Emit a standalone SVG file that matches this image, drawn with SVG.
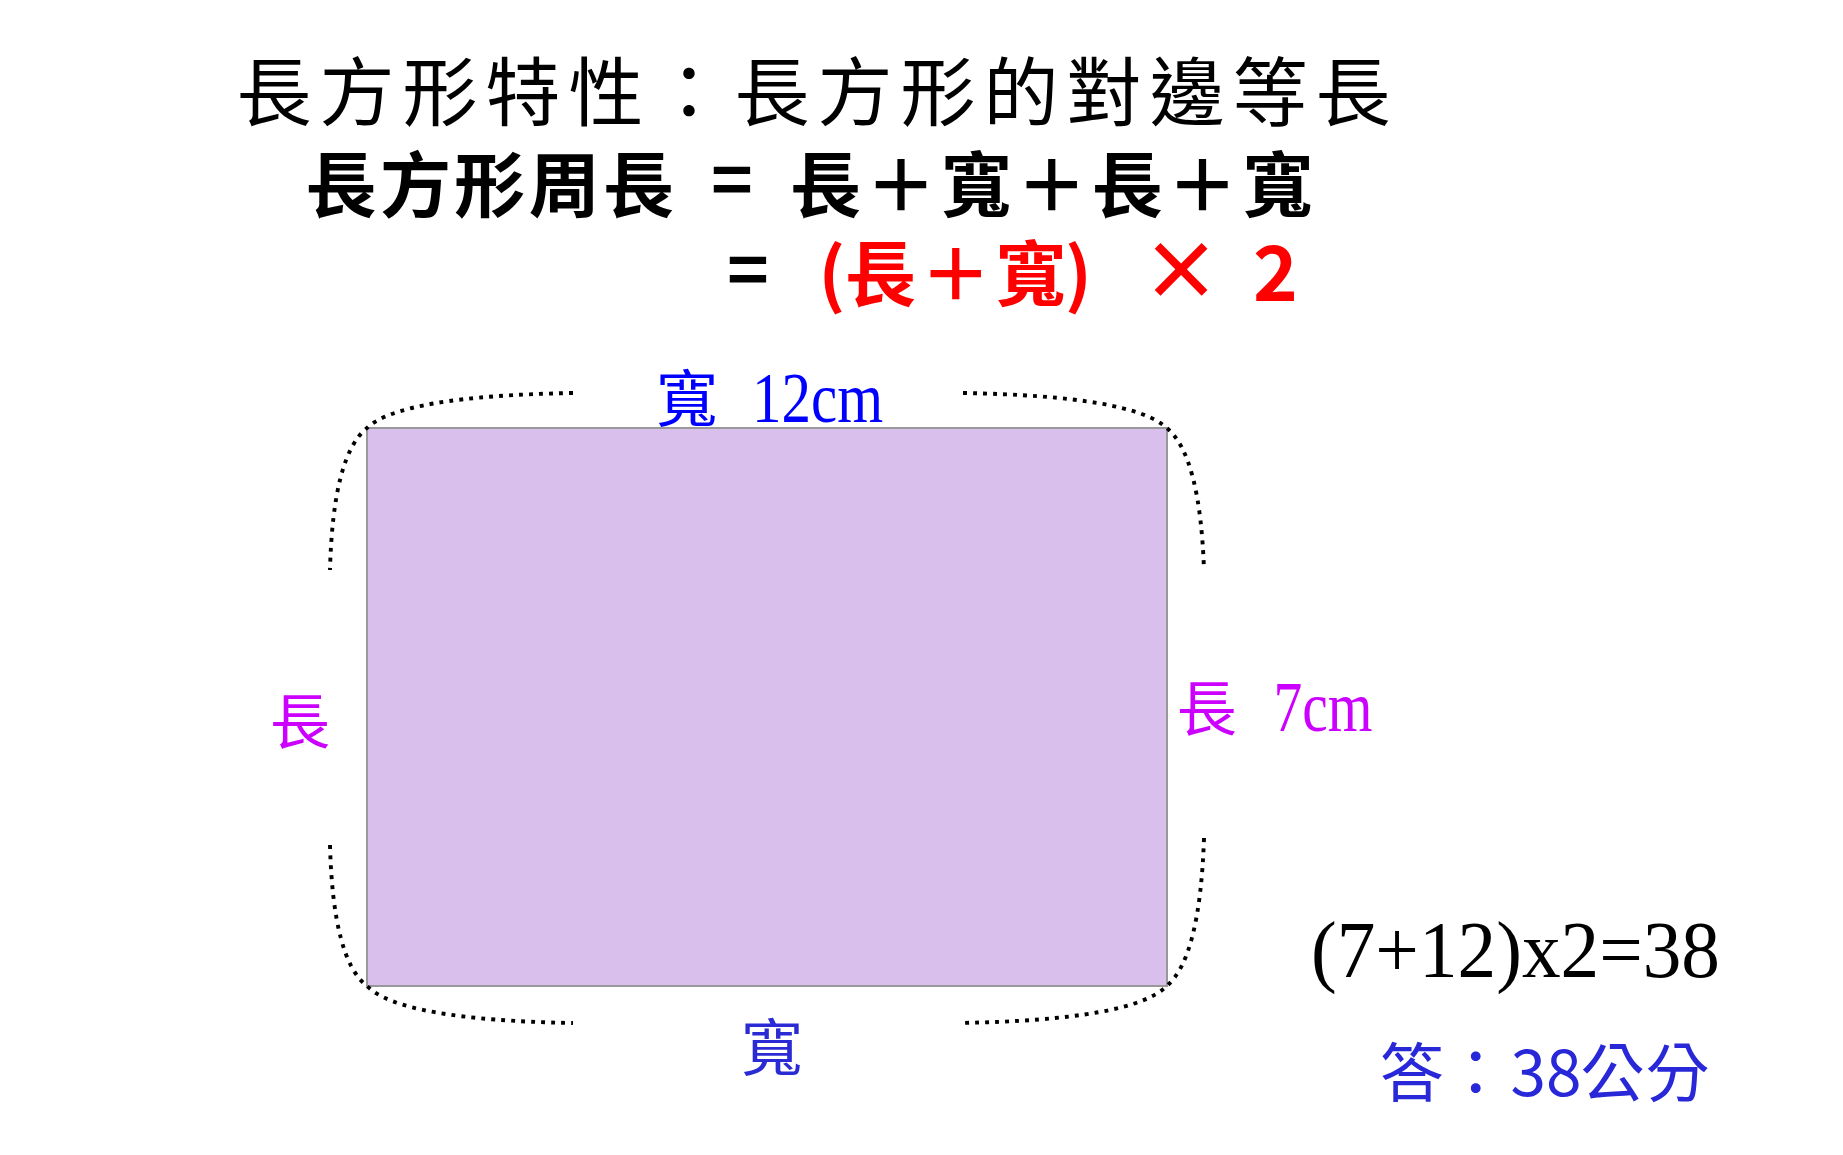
<svg xmlns="http://www.w3.org/2000/svg" width="1843" height="1155" viewBox="0 0 1843 1155">
<style>
.cjk{font-family:"Noto Sans CJK TC","Noto Sans CJK SC",sans-serif;}
.bold{font-weight:700;}
.ser{font-family:"Liberation Serif","DejaVu Serif",serif;}
.dot{fill:none;stroke:#000;stroke-width:3.9;stroke-dasharray:3.9 6.1;}
</style>
<rect x="0" y="0" width="1843" height="1155" fill="#fff"/>

<g id="title">
<text class="cjk" font-size="75" letter-spacing="8" fill="#000" x="236.5" y="120">長方形特性：長方形的對邊等長</text>
</g>

<g id="formula1">
<text class="cjk bold" font-size="71" letter-spacing="3.4" fill="#000" x="305.5" y="211">長方形周長</text>
<text class="cjk bold" font-size="71" text-anchor="middle" fill="#000" x="732" y="206">=</text>
<text class="cjk bold" font-size="71" letter-spacing="4.4" fill="#000" x="790.1" y="211">長＋寬＋長＋寬</text>
</g>

<g id="formula2">
<text class="cjk bold" font-size="71" text-anchor="middle" fill="#000" x="748" y="296">=</text>
<text class="cjk bold" font-size="71" text-anchor="middle" fill="#ff0000" x="832" y="300">(</text>
<text class="cjk bold" font-size="71" letter-spacing="4.25" fill="#ff0000" x="845" y="300">長＋寬</text>
<text class="cjk bold" font-size="71" text-anchor="middle" fill="#ff0000" x="1078.5" y="300">)</text>
<text class="cjk bold" font-size="80" text-anchor="middle" fill="#ff0000" x="1181" y="299">×</text>
<text class="cjk bold" font-size="76" text-anchor="middle" fill="#ff0000" x="1275.5" y="301">2</text>
</g>

<g id="rectangle">
<rect x="367" y="428" width="800" height="558" fill="#d9bfec" stroke="#999" stroke-width="2"/>
</g>

<g id="connectors">
<path class="dot" d="M573,393 Q400,396 367,428 Q333,455 330,570"/>
<path class="dot" d="M963,393 Q1133,396 1166.7,428 Q1200,455 1204,570"/>
<path class="dot" d="M330,845 Q333,960 367,986 Q400,1020 573,1023"/>
<path class="dot" d="M1204,838 Q1200,958 1166.7,986 Q1133,1020 960,1023"/>
</g>

<g id="label-top">
<text class="cjk" font-size="62" text-anchor="middle" fill="#0000ff" x="687" y="422">寬</text>
<text class="ser" font-size="72" fill="#0000ff" x="752" y="421.7" textLength="131" lengthAdjust="spacingAndGlyphs">12cm</text>
</g>

<g id="label-left">
<text class="cjk" font-size="60" text-anchor="middle" fill="#cc00ff" x="300" y="744">長</text>
</g>

<g id="label-right">
<text class="cjk" font-size="60" text-anchor="middle" fill="#cc00ff" x="1206.7" y="731">長</text>
<text class="ser" font-size="72" fill="#cc00ff" x="1273.5" y="730.7" textLength="99" lengthAdjust="spacingAndGlyphs">7cm</text>
</g>

<g id="label-bottom">
<text class="cjk" font-size="62" text-anchor="middle" fill="#2b2bd6" x="772" y="1071">寬</text>
</g>

<g id="calculation">
<text class="ser" font-size="81" fill="#000" x="1311" y="976.7" textLength="409" lengthAdjust="spacingAndGlyphs">(7+12)x2=38</text>
</g>

<g id="answer">
<text class="cjk" font-size="64" fill="#2828d8" x="1379.7" y="1095.5">答：</text>
<text class="cjk" font-size="64" text-anchor="middle" fill="#2828d8" x="1546" y="1095.5">38</text>
<text class="cjk" font-size="64" letter-spacing="1" fill="#2828d8" x="1580.5" y="1095.5">公分</text>
</g>
</svg>
